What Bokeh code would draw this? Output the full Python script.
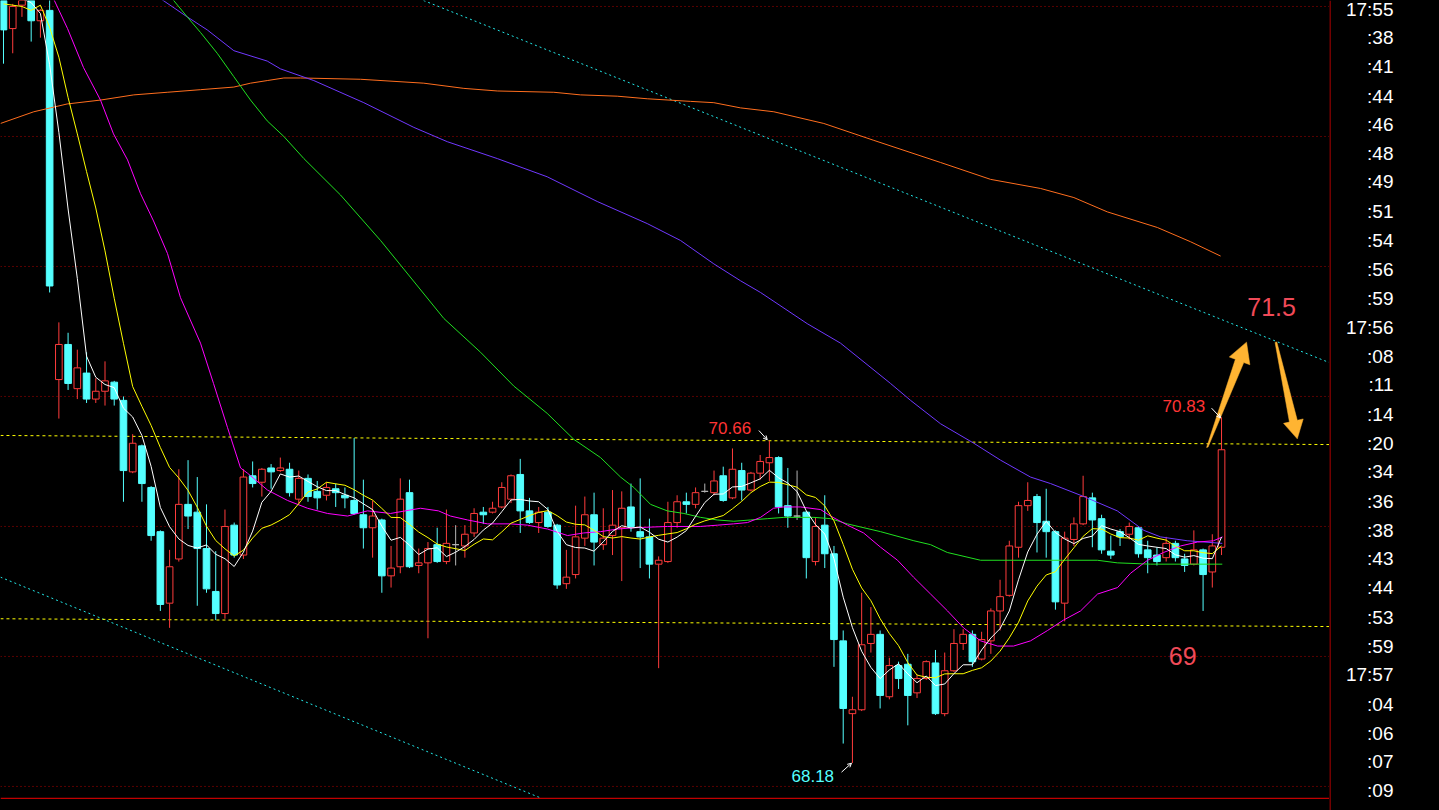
import numpy as np
import pandas as pd
from bokeh.plotting import figure
from bokeh.layouts import row
from bokeh.models import (Range1d, Span, Arrow, OpenHead, ColumnDataSource,
                          GlobalInlineStyleSheet)
from bokeh.core.properties import value
from bokeh.embed import file_html
from bokeh.resources import INLINE

# ---------------- candle data (price) ----------------
OPEN = [74.05, 73.83, 74.01, 74.05, 73.89, 73.97, 71.13, 71.40, 71.06, 71.18,
        70.98, 71.04, 71.11, 70.97, 70.42, 70.62, 70.30, 69.96, 69.41, 69.75,
        70.17, 70.11, 69.83, 69.50, 69.33, 70.01, 69.78, 70.39, 70.34, 70.45,
        70.43, 70.44, 70.21, 70.37, 70.27, 70.24, 70.29, 70.24, 70.20, 70.09,
        69.99, 70.05, 69.62, 69.69, 70.26, 69.70, 69.72, 69.86, 69.73, 69.86,
        69.85, 69.95, 70.11, 70.11, 70.15, 70.21, 70.40, 70.12, 70.03, 70.11,
        70.01, 69.56, 69.63, 69.91, 70.09, 69.86, 69.93, 69.99, 70.15, 69.96,
        69.92, 69.71, 69.73, 70.03, 70.19, 70.17, 70.27, 70.26, 70.39, 70.22,
        70.43, 70.28, 70.41, 70.49, 70.53, 70.16, 70.08, 70.11, 69.73, 70.01,
        69.79, 69.12, 68.56, 68.59, 69.10, 69.17, 68.69, 68.93, 68.94, 68.72,
        68.83, 68.95, 68.56, 68.89, 69.10, 69.17, 68.98, 69.12, 69.35, 69.47,
        69.84, 70.16, 70.23, 70.04, 69.96, 69.41, 69.90, 70.02, 70.22, 70.06,
        69.81, 69.96, 69.94, 69.99, 69.82, 69.78, 69.76, 69.87, 69.75, 69.71,
        69.82, 69.65, 69.84]
HIGH = [74.07, 74.02, 74.08, 74.08, 73.98, 74.07, 71.57, 71.49, 71.36, 71.34,
        71.14, 71.27, 71.12, 71.00, 70.71, 70.63, 70.31, 69.97, 69.82, 70.44,
        70.51, 70.38, 70.17, 69.81, 70.13, 70.03, 70.44, 70.50, 70.45, 70.48,
        70.53, 70.49, 70.43, 70.40, 70.35, 70.34, 70.33, 70.30, 70.68, 70.36,
        70.20, 70.06, 69.85, 70.37, 70.36, 69.83, 69.88, 69.99, 70.13, 70.01,
        70.01, 70.14, 70.15, 70.19, 70.34, 70.40, 70.52, 70.22, 70.15, 70.15,
        70.02, 69.82, 70.16, 70.23, 70.26, 70.14, 70.28, 70.27, 70.33, 70.37,
        70.06, 69.77, 70.19, 70.24, 70.26, 70.30, 70.33, 70.43, 70.46, 70.60,
        70.49, 70.42, 70.55, 70.66, 70.54, 70.45, 70.43, 70.12, 70.07, 70.24,
        69.85, 69.20, 68.69, 69.49, 69.38, 69.20, 68.99, 68.96, 69.02, 68.86,
        68.97, 69.05, 69.03, 69.21, 69.21, 69.20, 69.19, 69.37, 69.59, 69.89,
        70.19, 70.34, 70.25, 70.29, 69.97, 69.96, 70.07, 70.39, 70.26, 70.09,
        69.93, 69.98, 70.03, 70.00, 69.89, 69.84, 69.92, 69.89, 69.79, 69.97,
        69.83, 69.94, 70.84]
LOW = [73.56, 73.64, 73.92, 73.73, 73.76, 71.80, 70.83, 71.05, 70.98, 70.95,
       70.95, 70.93, 70.93, 70.19, 70.41, 70.19, 69.89, 69.35, 69.22, 69.73,
       69.98, 69.39, 69.49, 69.28, 69.29, 69.76, 69.75, 70.30, 70.23, 70.29,
       70.42, 70.23, 70.17, 70.19, 70.13, 70.20, 70.15, 70.14, 70.09, 69.83,
       69.76, 69.49, 69.53, 69.64, 69.68, 69.64, 69.14, 69.72, 69.71, 69.70,
       69.76, 69.92, 70.02, 70.10, 70.14, 70.18, 69.95, 70.02, 69.95, 69.99,
       69.52, 69.52, 69.60, 69.85, 69.70, 69.82, 69.78, 69.58, 69.96, 69.68,
       69.60, 68.91, 69.72, 69.99, 70.10, 70.14, 70.26, 70.24, 70.19, 70.21,
       70.20, 70.27, 70.36, 70.35, 70.10, 69.99, 70.05, 69.60, 69.70, 69.68,
       68.92, 68.33, 68.18, 68.58, 69.03, 68.60, 68.67, 68.75, 68.47, 68.68,
       68.82, 68.55, 68.54, 68.88, 69.05, 68.92, 68.97, 69.02, 69.20, 69.46,
       69.76, 70.12, 69.80, 69.76, 69.36, 69.27, 69.85, 70.01, 69.84, 69.79,
       69.75, 69.85, 69.90, 69.76, 69.64, 69.70, 69.73, 69.73, 69.65, 69.70,
       69.35, 69.53, 69.78]
CLOSE = [73.82, 74.00, 74.05, 73.89, 73.97, 71.85, 71.40, 71.10, 71.22, 70.98,
         71.04, 71.12, 70.98, 70.43, 70.64, 70.33, 69.93, 69.40, 69.69, 70.17,
         70.08, 69.83, 69.52, 69.33, 70.00, 69.78, 70.38, 70.33, 70.44, 70.42,
         70.45, 70.26, 70.37, 70.23, 70.22, 70.30, 70.26, 70.22, 70.10, 69.99,
         70.08, 69.62, 69.68, 70.21, 69.69, 69.72, 69.83, 69.73, 69.87, 69.86,
         69.94, 70.10, 70.09, 70.14, 70.30, 70.39, 70.12, 70.03, 70.11, 70.00,
         69.55, 69.61, 69.92, 70.09, 69.88, 69.91, 70.01, 70.14, 70.00, 69.92,
         69.71, 69.74, 70.03, 70.19, 70.17, 70.26, 70.27, 70.35, 70.20, 70.44,
         70.28, 70.41, 70.50, 70.53, 70.15, 70.08, 70.08, 69.76, 70.00, 69.79,
         69.13, 68.60, 68.59, 69.09, 69.17, 68.70, 68.93, 68.83, 68.70, 68.83,
         68.96, 68.56, 68.89, 69.10, 69.17, 68.96, 69.13, 69.35, 69.46, 69.85,
         70.16, 70.20, 70.03, 69.96, 69.42, 69.91, 70.02, 70.23, 70.05, 69.82,
         69.78, 69.92, 70.00, 69.79, 69.76, 69.73, 69.87, 69.76, 69.70, 69.82,
         69.63, 69.85, 70.59]

# moving-average values visible before a full window exists
MA5_HEAD = [74.10, 74.08, 74.06, 74.03]
MA10_HEAD = [74.02, 74.01, 74.00, 73.97, 74.01, 73.84, 73.61, 73.30, 73.02,
             72.73, 72.45, 72.12]

# longer averages (bar index, price)
MAG_X = [5.42, 6.94, 8.67, 10.51, 11.92, 13.44, 14.85, 16.26, 17.77, 19.18,
         21.35, 22.76, 24.28, 25.69, 26.44, 28.61, 30.78, 32.95, 35.11, 37.28,
         39.45, 41.94, 45.19, 47.14, 48.44, 50.29, 52.45, 54.95, 56.79, 58.96,
         61.13, 62.86, 64.70, 66.54, 68.28, 71.96, 75.54, 77.38, 79.12, 80.63,
         82.04, 83.45, 84.53, 86.38, 88.55, 89.63, 91.47, 93.21, 95.05, 96.89,
         98.62, 100.47, 102.31, 104.04, 105.89, 107.73, 109.46, 111.30, 113.15, 114.88,
         116.72, 118.56, 120.73, 122.14, 123.98, 125.72, 127.56, 129.40, 131.13, 132.11]
MAG_Y = [74.06, 73.83, 73.53, 73.28, 73.02, 72.82, 72.56, 72.35, 72.10, 71.76,
         71.41, 71.10, 70.76, 70.45, 70.41, 70.28, 70.20, 70.14, 70.10, 70.08,
         70.12, 70.10, 70.14, 70.12, 70.08, 70.05, 70.02, 70.02, 70.01, 69.98,
         69.93, 69.95, 69.96, 69.98, 69.99, 70.00, 70.00, 70.01, 70.02, 70.03,
         70.07, 70.14, 70.15, 70.15, 70.13, 70.08, 70.01, 69.95, 69.84, 69.74,
         69.61, 69.48, 69.35, 69.22, 69.12, 69.08, 69.08, 69.12, 69.20, 69.28,
         69.35, 69.48, 69.53, 69.64, 69.74, 69.80, 69.85, 69.88, 69.89, 69.92]
GRN_X = [18.28, 19.91, 21.35, 23.16, 24.96, 26.77, 28.58, 30.38, 32.55, 36.52,
         40.86, 43.38, 47.72, 51.70, 55.30, 58.92, 61.81, 64.70, 66.87, 68.31,
         70.12, 71.93, 73.73, 75.54, 77.35, 79.15, 80.96, 82.77, 84.57, 87.82,
         89.63, 91.44, 95.05, 98.66, 100.47, 102.28, 105.89, 109.50, 118.54, 120.70,
         124.31, 132.08]
GRN_Y = [74.06, 73.92, 73.80, 73.64, 73.46, 73.28, 73.12, 73.00, 72.83, 72.55,
         72.20, 71.98, 71.60, 71.34, 71.08, 70.87, 70.67, 70.53, 70.38, 70.30,
         70.17, 70.12, 70.10, 70.07, 70.05, 70.04, 70.05, 70.06, 70.07, 70.07,
         70.06, 70.02, 69.96, 69.89, 69.86, 69.80, 69.74, 69.74, 69.74, 69.72,
         69.71, 69.71]
BLU_X = [17.02, 19.91, 22.08, 24.96, 28.58, 30.02, 33.63, 39.05, 44.47, 48.09,
         53.51, 58.92, 64.34, 69.76, 73.37, 76.98, 79.87, 82.04, 87.10, 90.71,
         96.13, 98.30, 101.55, 105.16, 108.05, 111.30, 113.47, 117.08, 120.70, 123.58,
         125.39, 128.28, 132.08]
BLU_Y = [74.06, 73.92, 73.82, 73.66, 73.58, 73.52, 73.43, 73.26, 73.07, 72.96,
         72.83, 72.69, 72.50, 72.33, 72.20, 72.02, 71.89, 71.80, 71.56, 71.41,
         71.10, 70.97, 70.79, 70.64, 70.51, 70.38, 70.33, 70.23, 70.12, 69.97,
         69.92, 69.89, 69.87]
ORG_X = [-0.33, 3.28, 5.09, 6.90, 10.51, 14.12, 17.74, 21.35, 24.96, 26.77,
         28.58, 30.38, 32.19, 38.69, 45.55, 49.89, 53.51, 59.64, 62.53, 66.51,
         69.76, 74.46, 76.98, 79.87, 83.48, 88.90, 94.32, 101.55, 106.97, 112.39,
         116.00, 119.62, 125.04, 128.65, 131.90]
ORG_Y = [73.10, 73.19, 73.22, 73.25, 73.28, 73.32, 73.34, 73.36, 73.38, 73.41,
         73.43, 73.45, 73.45, 73.44, 73.41, 73.37, 73.35, 73.34, 73.32, 73.31,
         73.29, 73.27, 73.26, 73.22, 73.19, 73.10, 72.97, 72.80, 72.67, 72.60,
         72.53, 72.42, 72.30, 72.19, 72.08]

# drawn trend lines (bar index, price)
CYAN_UP_X, CYAN_UP_Y = [45.52, 143.70], [74.046, 71.26]
CYAN_LO_X, CYAN_LO_Y = [-0.33, 58.09], [69.61, 67.915]
YEL_UP_X, YEL_UP_Y = [-0.33, 143.70], [70.70, 70.63]
YEL_LO_X, YEL_LO_Y = [-0.33, 143.70], [69.29, 69.23]

GRID_LEVELS = [68, 69, 70, 71, 72, 73, 74]
FRAME_BOTTOM = 67.908

# right-hand scale labels (vertical centre of each label, in price units)
AXIS_POS = [73.98, 73.76, 73.54, 73.31, 73.09, 72.87, 72.65, 72.42, 72.20, 71.98,
            71.75, 71.53, 71.31, 71.09, 70.86, 70.64, 70.42, 70.19, 69.97, 69.75,
            69.53, 69.30, 69.08, 68.86, 68.63, 68.41, 68.19, 67.97]
AXIS_TEXT = ["17:55", ":38", ":41", ":44", ":46", ":48", ":49", ":51", ":54", ":56",
             ":59", "17:56", ":08", ":11", ":14", ":20", ":34", ":36", ":38", ":43",
             ":44", ":53", ":59", "17:57", ":04", ":06", ":07", ":09"]

# annotations (left edge, vertical centre)
ANN_TEXT = ["70.66", "70.83", "68.18", "71.5", "69"]
ANN_X = [76.41, 125.61, 85.40, 134.79, 126.29]
ANN_Y = [70.754, 70.927, 68.077, 71.687, 69.00]
ANN_COLOR = ["#ff3434", "#ff3434", "#54ffff", "#f04a58", "#f04a58"]
ANN_SIZE = ["17px", "17px", "17px", "25px", "25px"]

PTR_X0 = [81.86, 130.92, 90.82]
PTR_Y0 = [70.738, 70.910, 68.110]
PTR_X1 = [82.77, 131.90, 91.90]
PTR_Y1 = [70.667, 70.836, 68.179]

ARROW_UP_X = [130.38, 130.54, 134.41, 135.07, 134.71, 132.84, 133.50]
ARROW_UP_Y = [70.608, 70.611, 71.261, 71.244, 71.418, 71.304, 71.286]
ARROW_DN_X = [137.80, 137.99, 140.21, 140.85, 140.21, 138.72, 139.36]
ARROW_DN_Y = [71.416, 71.419, 70.817, 70.827, 70.674, 70.793, 70.803]

# ---------------- figure ----------------
W_MAIN, W_AX, H = 1329, 110, 810
RED = "#ff3c3c"
CYAN = "#54ffff"
GREY = "#b4b4b4"

y_rng = Range1d(67.815, 74.046)
p = figure(width=W_MAIN, height=H, x_range=Range1d(-0.325, 143.70), y_range=y_rng,
           output_backend="svg", toolbar_location=None,
           x_axis_location=None, y_axis_location=None,
           background_fill_color="black", border_fill_color="black",
           outline_line_color=None, min_border=0)
p.grid.visible = False

for lv in GRID_LEVELS:
    p.add_layout(Span(location=lv, dimension="width", line_color="#b00000",
                      line_width=1, line_dash="1 3", level="underlay"))
p.add_layout(Span(location=FRAME_BOTTOM, dimension="width", line_color="#c00000",
                  line_width=1.2))

p.line(CYAN_UP_X, CYAN_UP_Y, line_color="#22e6e6", line_width=1, line_dash="2 3")
p.line(CYAN_LO_X, CYAN_LO_Y, line_color="#22e6e6", line_width=1, line_dash="2 3")
p.line(YEL_UP_X, YEL_UP_Y, line_color="#ffff00", line_width=1, line_dash="3 3")
p.line(YEL_LO_X, YEL_LO_Y, line_color="#ffff00", line_width=1, line_dash="3 3")

o = np.array(OPEN); c = np.array(CLOSE); h = np.array(HIGH); l = np.array(LOW)
idx = np.arange(len(c))
top = np.maximum(o, c)
bot = np.minimum(o, c)
col = np.where(c > o, RED, np.where(c < o, CYAN, GREY))
fill = np.where(c < o, CYAN, "black")
src = ColumnDataSource(dict(x=idx, h=h, l=l, top=top, bot=bot, col=col, fill=fill))
p.segment(x0="x", y0="h", x1="x", y1="top", line_color="col", line_width=1, source=src)
p.segment(x0="x", y0="bot", x1="x", y1="l", line_color="col", line_width=1, source=src)
p.vbar(x="x", width=0.72, top="top", bottom="bot", fill_color="fill",
       line_color="col", line_width=1, source=src)

cs = pd.Series(c)
ma5 = cs.rolling(5).mean().to_numpy()
ma5[:len(MA5_HEAD)] = MA5_HEAD
ma10 = cs.rolling(10).mean().to_numpy()
ma10[:len(MA10_HEAD)] = MA10_HEAD

p.line(ORG_X, ORG_Y, line_color="#ff6e1e", line_width=1)
p.line(BLU_X, BLU_Y, line_color="#7038ff", line_width=1)
p.line(GRN_X, GRN_Y, line_color="#20e020", line_width=1)
p.line(MAG_X, MAG_Y, line_color="#ff00ff", line_width=1)
p.line(idx, ma10, line_color="#ffff00", line_width=1)
p.line(idx, ma5, line_color="#ffffff", line_width=1)

p.patch(ARROW_UP_X, ARROW_UP_Y, fill_color="#ffb432", line_color="#ffb432", line_width=0.5)
p.patch(ARROW_DN_X, ARROW_DN_Y, fill_color="#ffb432", line_color="#ffb432", line_width=0.5)

ann = ColumnDataSource(dict(x=ANN_X, y=ANN_Y, t=ANN_TEXT, c=ANN_COLOR, s=ANN_SIZE))
p.text(x="x", y="y", text="t", text_color="c", text_font_size="s",
       text_font=value("Liberation Sans"), text_align="left",
       text_baseline="middle", source=ann)

for x0, y0, x1, y1 in zip(PTR_X0, PTR_Y0, PTR_X1, PTR_Y1):
    p.add_layout(Arrow(x_start=x0, y_start=y0, x_end=x1, y_end=y1,
                       line_color="white", line_width=1,
                       end=OpenHead(size=4, line_color="white", line_width=1)))

# ---------------- right scale panel ----------------
p2 = figure(width=W_AX, height=H, x_range=Range1d(0, W_AX), y_range=y_rng,
            output_backend="svg", toolbar_location=None,
            x_axis_location=None, y_axis_location=None,
            background_fill_color="black", border_fill_color="black",
            outline_line_color=None, min_border=0)
p2.grid.visible = False
p2.add_layout(Span(location=0.5, dimension="height", line_color="#c00000", line_width=1.2))
p2.text(x=[64] * len(AXIS_TEXT), y=AXIS_POS, text=AXIS_TEXT, text_color="white",
        text_font=value("Liberation Sans"), text_font_size="19px",
        text_align="right", text_baseline="middle")

layout = row(p, p2)
layout.stylesheets = [GlobalInlineStyleSheet(
    css="html,body{margin:0;padding:0;background:#000;overflow:hidden;}")]

open("out.html", "w").write(file_html(layout, INLINE))
